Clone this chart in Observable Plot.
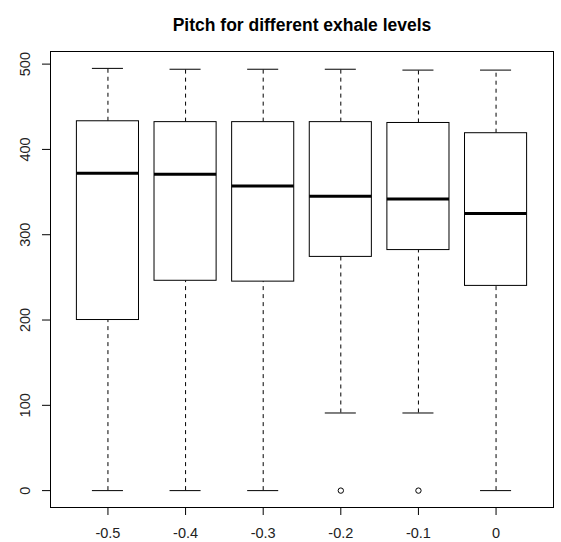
<!DOCTYPE html>
<html><head><meta charset="utf-8">
<script src="https://cdn.jsdelivr.net/npm/d3@7"></script>
<script src="https://cdn.jsdelivr.net/npm/@observablehq/plot@0.6"></script>
<style>body{margin:0;background:#fff;}</style>
</head><body><div id="chart"></div>
<script>
const title = "Pitch for different exhale levels";
const levels = ["-0.5", "-0.4", "-0.3", "-0.2", "-0.1", "0"];
const lowerWhisker = [0, 0, 0, 91, 91, 0];
const q1 = [200, 246, 245, 274, 282, 240];
const median = [372, 371, 357, 345, 342, 325];
const q3 = [433, 432, 432, 432, 431, 419];
const upperWhisker = [495, 494, 494, 494, 493, 493];
const outlierLevels = ["-0.2", "-0.1"];
const outlierValues = [0, 0];
const yTicks = [0, 100, 200, 300, 400, 500];

const boxes = levels.map((l, i) => ({level: l, pos: i + 1, lo: lowerWhisker[i], q1: q1[i], med: median[i], q3: q3[i], hi: upperWhisker[i]}));
const pts = outlierLevels.map((l, i) => ({pos: levels.indexOf(l) + 1, value: outlierValues[i]}));
const boxHalf = 0.4, capHalf = 0.2;

const chart = Plot.plot({
  width: 561, height: 542,
  marginLeft: 50, marginRight: 8, marginTop: 51, marginBottom: 35,
  style: {fontFamily: "'Liberation Sans', Arial, sans-serif", fontSize: "14.5px", color: "#000", background: "#fff"},
  x: {type: "linear", domain: [0.26, 6.74]},
  y: {domain: [-19.8, 514.8]},
  marks: [
    Plot.axisY(yTicks, {tickSize: 8, tickRotate: -90, tickPadding: 13, label: null, stroke: "#000", fill: "#222"}),
    Plot.axisX(levels.map((_, i) => i + 1), {tickFormat: d => levels[d - 1], tickSize: 8, tickPadding: 12, label: null, stroke: "#000", fill: "#222"}),
    Plot.ruleX(boxes, {x: "pos", y1: "q3", y2: "hi", stroke: "#000", strokeDasharray: "4,4"}),
    Plot.ruleX(boxes, {x: "pos", y1: "lo", y2: "q1", stroke: "#000", strokeDasharray: "4,4"}),
    Plot.ruleY(boxes, {y: "hi", x1: d => d.pos - capHalf, x2: d => d.pos + capHalf, stroke: "#000"}),
    Plot.ruleY(boxes, {y: "lo", x1: d => d.pos - capHalf, x2: d => d.pos + capHalf, stroke: "#000"}),
    Plot.rect(boxes, {x1: d => d.pos - boxHalf, x2: d => d.pos + boxHalf, y1: "q1", y2: "q3", fill: "#fff", stroke: "#000"}),
    Plot.ruleY(boxes, {y: "med", x1: d => d.pos - boxHalf, x2: d => d.pos + boxHalf, stroke: "#000", strokeWidth: 3}),
    Plot.dot(pts, {x: "pos", y: "value", r: 2.7, stroke: "#000", fill: "none", strokeWidth: 1}),
    Plot.frame({stroke: "#000"}),
    Plot.text([title], {text: d => d, frameAnchor: "top", dy: -33, fontWeight: "bold", fontSize: 17.5})
  ]
});
document.getElementById("chart").appendChild(chart);
</script>
</body></html>
